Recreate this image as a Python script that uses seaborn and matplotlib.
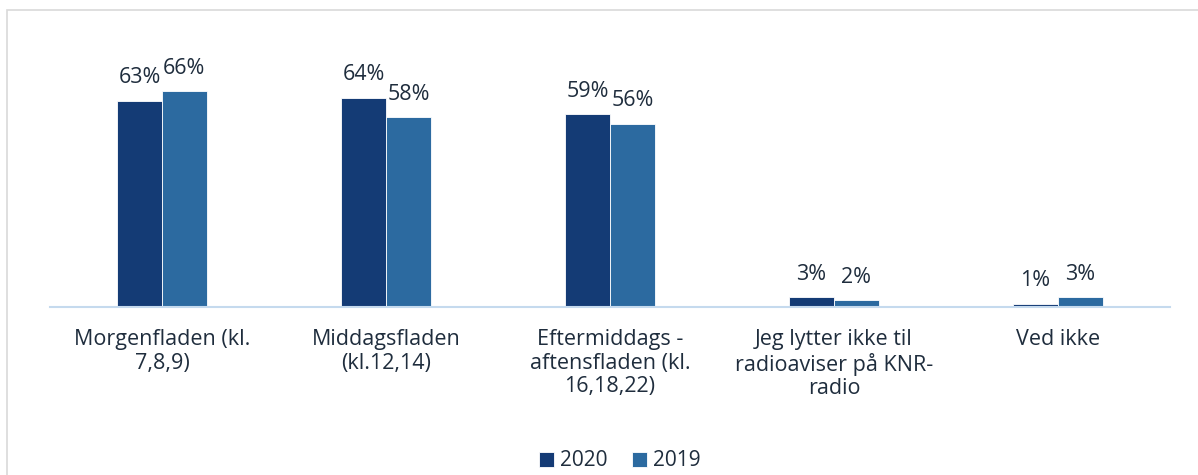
import matplotlib
matplotlib.use("Agg")
import matplotlib.pyplot as plt
import seaborn as sns
import pandas as pd
from matplotlib.patches import Rectangle

categories = ["Morgenfladen (kl.\n7,8,9)", "Middagsfladen\n(kl.12,14)",
              "Eftermiddags -\naftensfladen (kl.\n16,18,22)",
              "Jeg lytter ikke til\nradioaviser på KNR-\nradio", "Ved ikke"]
years = ["2020", "2019"]
values_2020 = [63, 64, 59, 3, 1]
values_2019 = [66, 58, 56, 2, 3]

df = pd.DataFrame({
    "cat": categories * 2,
    "year": ["2020"] * 5 + ["2019"] * 5,
    "val": values_2020 + values_2019,
})

sns.set_theme(style="white")
plt.rcParams['font.family'] = ['Open Sans', 'DejaVu Sans']
text_color = "#1f2d3d"
palette = {"2020": "#143b75", "2019": "#2c6aa0"}

W, H = 1198, 475
fig = plt.figure(figsize=(W / 100, H / 100), dpi=100)
ax = fig.add_axes([50 / W, 1 - 307 / H, 1120 / W, (307 - 30) / H])

sns.barplot(data=df, x="cat", y="val", hue="year", hue_order=years,
            palette=palette, saturation=1, width=0.4, ax=ax,
            edgecolor="#ffffff", linewidth=0.6, legend=True)

ax.set_ylim(0, 84.7)
ax.set_xlim(-0.5, 4.5)
ax.set_xlabel("")
ax.set_ylabel("")
ax.set_yticks([])
for s in ["top", "right", "left"]:
    ax.spines[s].set_visible(False)
ax.spines["bottom"].set_color("#c5daee")
ax.spines["bottom"].set_linewidth(1.5)
ax.tick_params(axis="x", length=0, pad=16, labelsize=15.5, colors=text_color)
for lab in ax.get_xticklabels():
    lab.set_linespacing(1.15)

for cont in ax.containers:
    ax.bar_label(cont, labels=[f"{int(v)}%" for v in cont.datavalues],
                 padding=9, fontsize=15.5, color=text_color)

leg = ax.legend(loc="center", bbox_to_anchor=(620 / W, 1 - 461 / H),
                bbox_transform=fig.transFigure, ncol=2, frameon=False,
                fontsize=15, handlelength=0.7, handleheight=0.7,
                handletextpad=0.3, columnspacing=1.2)
for t in leg.get_texts():
    t.set_color(text_color)

fig.patches.append(Rectangle((7 / W, -0.1), 1.2, 1 - 10 / H + 0.1,
                             transform=fig.transFigure, fill=False,
                             edgecolor="#d9d9d9", linewidth=1.2))

fig.savefig("out.png", dpi=100)
